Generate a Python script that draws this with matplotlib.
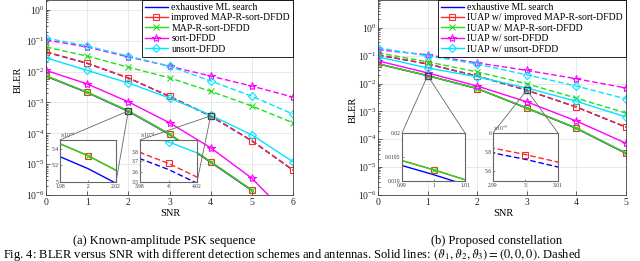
import numpy as np
import matplotlib
matplotlib.use("Agg")
import matplotlib.pyplot as plt
from matplotlib.patches import ConnectionPatch
from matplotlib.ticker import LogLocator, NullLocator, FixedLocator, FixedFormatter

plt.rcParams['font.family'] = ['Liberation Serif', 'DejaVu Serif']
plt.rcParams['mathtext.fontset'] = 'stix'

# ---- data, panel (a): known-amplitude PSK ----
snr_a = [0, 1, 2, 3, 4, 5, 6]
ml_a_solid = [7.1e-3, 2.1e-3, 5.16e-4, 9.2e-5, 1.15e-5, 1.4e-6, np.nan]
imp_a_solid = [7.3e-3, 2.15e-3, 5.32e-4, 9.5e-5, 1.2e-5, 1.45e-6, np.nan]
mapr_a_solid = [7.3e-3, 2.15e-3, 5.32e-4, 9.5e-5, 1.2e-5, 1.45e-6, np.nan]
sort_a_solid = [1.1e-2, 4.0e-3, 1.05e-3, 2.2e-4, 3.4e-5, 3.5e-6, 1.5e-7]
unsort_a_solid = [2.8e-2, 1.1e-2, 4.3e-3, 1.4e-3, 3.9e-4, 8.9e-5, 1.2e-5]
ml_a_dash = [0.043, 0.0186, 6.2e-3, 1.57e-3, 3.62e-4, 5.7e-5, 6.4e-6]
imp_a_dash = [0.044, 0.019, 6.3e-3, 1.6e-3, 3.68e-4, 5.8e-5, 6.5e-6]
mapr_a_dash = [0.063, 0.032, 0.014, 6.3e-3, 2.3e-3, 7.7e-4, 2.2e-4]
sort_a_dash = [0.107, 0.063, 0.030, 0.015, 7.2e-3, 3.4e-3, 1.5e-3]
unsort_a_dash = [0.123, 0.068, 0.032, 0.015, 5.0e-3, 1.6e-3, 4.2e-4]

# ---- data, panel (b): proposed constellation ----
snr_b = [0, 1, 2, 3, 4, 5]
ml_b_solid = [0.0505, 0.01913, 6.55e-3, 1.3e-3, 2.45e-4, 3.1e-5]
imp_b_solid = [0.051, 0.01923, 6.6e-3, 1.32e-3, 2.5e-4, 3.2e-5]
mapr_b_solid = [0.051, 0.01923, 6.6e-3, 1.32e-3, 2.5e-4, 3.2e-5]
sort_b_solid = [0.065, 0.024, 8.1e-3, 2.2e-3, 4.5e-4, 7.2e-5]
unsort_b_solid = [0.091, 0.036, 0.0174, 6.9e-3, 2.3e-3, 6.3e-4]
ml_b_dash = [0.105, 0.050, 0.0184, 5.72e-3, 1.43e-3, 2.7e-4]
imp_b_dash = [0.107, 0.051, 0.0186, 5.77e-3, 1.45e-3, 2.75e-4]
mapr_b_dash = [0.126, 0.060, 0.026, 9.8e-3, 3.0e-3, 8.7e-4]
sort_b_dash = [0.162, 0.107, 0.055, 0.0295, 0.0148, 6.9e-3]
unsort_b_dash = [0.19, 0.098, 0.050, 0.0204, 8.1e-3, 2.8e-3]

labels_a = ["exhaustive ML search", "improved MAP-R-sort-DFDD", "MAP-R-sort-DFDD",
            "sort-DFDD", "unsort-DFDD"]
labels_b = ["exhaustive ML search", "IUAP w/ improved MAP-R-sort-DFDD",
            "IUAP w/ MAP-R-sort-DFDD", "IUAP w/ sort-DFDD", "IUAP w/ unsort-DFDD"]

colors = ['#0000ff', '#ff2a2a', '#1ee01e', '#ff00ff', '#00e5ff']
markers = [None, 's', 'x', '*', 'D']
msizes = [0, 5, 5, 6, 4.5]

W, H = 640, 261
fig = plt.figure(figsize=(W / 100, H / 100), dpi=100)


def px_axes(l, t, r, b):
    return fig.add_axes([l / W, 1 - b / H, (r - l) / W, (b - t) / H])


def draw_series(ax, x, solid, dashed, label=None):
    lines = []
    for i, (ys, yd) in enumerate(zip(solid, dashed)):
        kw = dict(color=colors[i], lw=1.0, marker=markers[i], ms=msizes[i], mfc='none', mew=0.8)
        ax.plot(x, yd, ls=(0, (4, 2)), **kw)
        ln, = ax.plot(x, ys, ls='-', label=label[i] if label else None, **kw)
        lines.append(ln)
    return lines


def style_main(ax, xmax, ytop):
    ax.set_yscale('log')
    ax.set_xlim(0, xmax)
    ax.set_ylim(1e-6, ytop)
    ax.set_xticks(range(xmax + 1))
    ax.yaxis.set_major_locator(LogLocator(base=10, numticks=10))
    ax.yaxis.set_minor_locator(LogLocator(base=10, subs=np.arange(2, 10), numticks=20))
    ax.tick_params(which='both', direction='in', labelsize=7, width=0.5, colors='0.15')
    ax.tick_params(which='major', length=3, pad=2)
    ax.tick_params(which='minor', length=1.5)
    ax.tick_params(axis='y', pad=1)
    ax.grid(True, which='major', color='0.88', lw=0.5)
    for s in ax.spines.values():
        s.set_linewidth(0.6)
        s.set_color('0.25')


def inset(ax, box, solid, dashed, x, xlim, ylim, yticks, ylabels, xlabels, offset, point, corners):
    ins = px_axes(*box)
    draw_series(ins, x, solid, dashed)
    ins.set_yscale('log')
    ins.set_xlim(*xlim)
    ins.set_ylim(*ylim)
    ins.yaxis.set_major_locator(FixedLocator(yticks))
    ins.yaxis.set_major_formatter(FixedFormatter(ylabels))
    ins.yaxis.set_minor_locator(NullLocator())
    ins.set_xticks([xlim[0], (xlim[0] + xlim[1]) / 2, xlim[1]])
    ins.set_xticklabels(xlabels)
    ins.tick_params(direction='in', labelsize=4, length=1.5, pad=1, width=0.4, colors='0.2')
    ins.tick_params(axis='x', pad=1.5)
    for s in ins.spines.values():
        s.set_linewidth(0.8)
        s.set_color('0.4')
    if offset:
        ins.text(0.0, 1.02, offset, transform=ins.transAxes, fontsize=4, va='bottom', color='0.2')
    ax.plot([point[0]], [point[1]], marker='s', ms=5, mfc='none', mec='0.25', mew=0.9, zorder=6)
    for c in corners:
        con = ConnectionPatch(xyA=point, coordsA=ax.transData, xyB=c, coordsB=ins.transAxes,
                              color='0.4', lw=0.6, zorder=7)
        fig.add_artist(con)
    return ins


def add_legend(ax, handles):
    leg = ax.legend(handles=handles, loc='upper right', bbox_to_anchor=(1, 1), borderaxespad=0,
                    fontsize=7, frameon=True, fancybox=False, edgecolor='black', framealpha=1,
                    handlelength=2.3, handletextpad=0.4, labelspacing=0.15, borderpad=0.3)
    leg.get_frame().set_linewidth(0.6)


# ---- panel (a) ----
ax_a = px_axes(46, 0, 293, 195)
sol_a = [ml_a_solid, imp_a_solid, mapr_a_solid, sort_a_solid, unsort_a_solid]
das_a = [ml_a_dash, imp_a_dash, mapr_a_dash, sort_a_dash, unsort_a_dash]
h_a = draw_series(ax_a, snr_a, sol_a, das_a, label=labels_a)
style_main(ax_a, 6, 10 ** 0.324)
add_legend(ax_a, h_a)

inset(ax_a, (60, 140, 116, 182), sol_a, das_a, snr_a, (1.98, 2.02), (5.0e-4, 5.52e-4),
      [5.0e-4, 5.2e-4, 5.4e-4], ['5', '5.2', '5.4'], ['1.98', '2', '2.02'],
      r'$\times10^{-4}$', (2, imp_a_solid[2]), [(0, 1), (1, 0)])
inset(ax_a, (140, 140, 197, 182), sol_a, das_a, snr_a, (3.98, 4.02), (3.5e-4, 3.92e-4),
      [3.5e-4, 3.6e-4, 3.7e-4, 3.8e-4], ['3.5', '3.6', '3.7', '3.8'], ['3.98', '4', '4.02'],
      r'$\times10^{-4}$', (4, imp_a_dash[4]), [(0, 1), (1, 0)])

# ---- panel (b) ----
ax_b = px_axes(378, 0, 626, 195)
sol_b = [ml_b_solid, imp_b_solid, mapr_b_solid, sort_b_solid, unsort_b_solid]
das_b = [ml_b_dash, imp_b_dash, mapr_b_dash, sort_b_dash, unsort_b_dash]
h_b = draw_series(ax_b, snr_b, sol_b, das_b, label=labels_b)
style_main(ax_b, 5, 9.9)
add_legend(ax_b, h_b)

inset(ax_b, (402, 133, 465, 181), sol_b, das_b, snr_b, (0.99, 1.01), (0.019, 0.02),
      [0.019, 0.0195, 0.02], ['0.019', '0.0195', '0.02'], ['0.99', '1', '1.01'],
      None, (1, imp_b_solid[1]), [(0, 1), (1, 1)])
inset(ax_b, (493, 133, 558, 181), sol_b, das_b, snr_b, (2.99, 3.01), (5.5e-3, 6.0e-3),
      [5.6e-3, 5.8e-3, 6.0e-3], ['5.6', '5.8', '6'], ['2.99', '3', '3.01'],
      r'$\times10^{-3}$', (3, imp_b_dash[3]), [(0, 1), (1, 1)])

# ---- labels and captions ----
fig.text(18 / W, 1 - 80 / H, 'BLER', rotation=90, ha='center', va='center', fontsize=7.5)
fig.text(353 / W, 1 - 110 / H, 'BLER', rotation=90, ha='center', va='center', fontsize=7.5)
fig.text(170 / W, 1 - 214 / H, 'SNR', ha='center', va='center', fontsize=7.5)
fig.text(503 / W, 1 - 214 / H, 'SNR', ha='center', va='center', fontsize=7.5)
fig.text(164 / W, 1 - 241 / H, '(a) Known-amplitude PSK sequence', ha='center', va='center', fontsize=9)
fig.text(497 / W, 1 - 241 / H, '(b) Proposed constellation', ha='center', va='center', fontsize=9)
fig.text(3 / W, 1 - 255 / H,
         r'Fig. 4: BLER versus SNR with different detection schemes and antennas. '
         r'Solid lines: $(\vartheta_1,\vartheta_2,\vartheta_3)=(0,0,0)$. Dashed',
         ha='left', va='center', fontsize=9)

fig.savefig('out.png', dpi=100)
